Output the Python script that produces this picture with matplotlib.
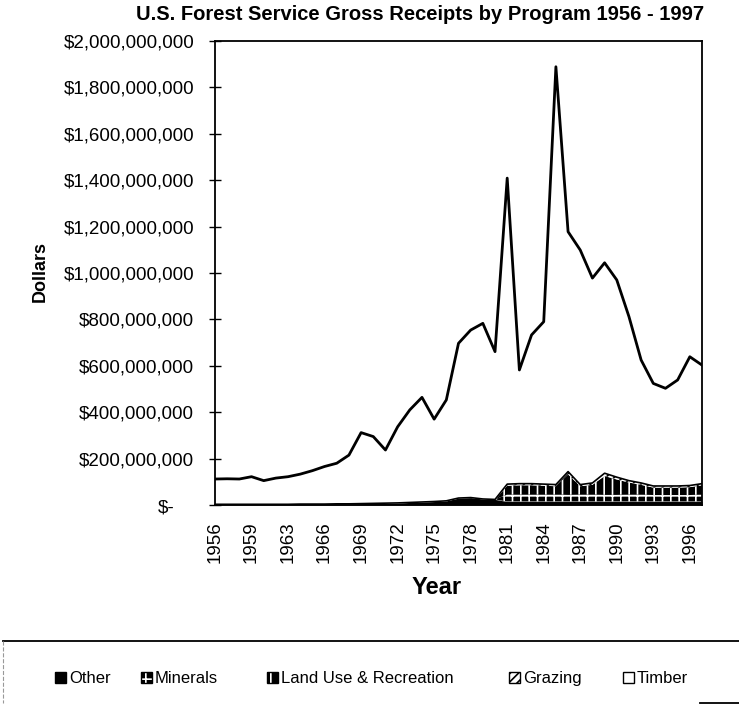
import numpy as np
import matplotlib.pyplot as plt
from matplotlib.patches import Rectangle
from matplotlib.lines import Line2D
from matplotlib.ticker import FuncFormatter
from matplotlib.transforms import blended_transform_factory

plt.rcParams['font.family'] = ['Liberation Sans', 'DejaVu Sans']
plt.rcParams['hatch.linewidth'] = 1.2

# category labels (no 1962 in the source table)
years = ['1956', '1957', '1958', '1959', '1960', '1961', '1963', '1964', '1965',
         '1966', '1967', '1968', '1969', '1970', '1971', '1972', '1973', '1974',
         '1975', '1976', '1977', '1978', '1979', '1980', '1981', '1982', '1983',
         '1984', '1985', '1986', '1987', '1988', '1989', '1990', '1991', '1992',
         '1993', '1994', '1995', '1996', '1997']

# receipts, millions of dollars
other = [3, 3, 3, 3, 3, 3, 3, 4, 4, 4, 5, 5, 6, 7, 8, 9, 11, 13, 15, 18,
         30, 32, 26, 24, 15, 15, 15, 15, 15, 15, 15, 15, 15, 15, 15, 15,
         15, 15, 15, 15, 15]
minerals = [0, 0, 0, 0, 0, 0, 0, 0, 0, 0, 0, 0, 0, 0, 0, 0, 0, 0, 0, 0,
            0, 0, 0, 0, 30, 30, 30, 30, 30, 32, 30, 30, 32, 32, 30, 30,
            28, 28, 28, 28, 30]
land_use = [0, 0, 0, 0, 0, 0, 0, 0, 0, 0, 0, 0, 0, 0, 0, 0, 0, 0, 0, 0,
            0, 0, 0, 0, 38, 40, 40, 38, 36, 85, 36, 42, 78, 63, 52, 42,
            32, 32, 32, 34, 40]
grazing = [0, 0, 0, 0, 0, 0, 0, 0, 0, 0, 0, 0, 0, 0, 0, 0, 0, 0, 0, 0,
           0, 0, 0, 0, 7, 7, 7, 7, 7, 12, 7, 8, 12, 10, 8, 8,
           7, 7, 7, 7, 7]
timber = [109, 110, 109, 119, 102, 113, 119, 129, 144, 162, 175, 210, 306,
          288, 229, 328, 399, 451, 355, 435, 667, 722, 757, 637, 1319, 490,
          641, 700, 1801, 1034, 1011, 883, 907, 850, 707, 530, 442, 421,
          457, 555, 511]

labels = ['Other', 'Minerals', 'Land Use & Recreation', 'Grazing', 'Timber']
styles = [
    dict(facecolor='black', edgecolor='black', hatch=None),
    dict(facecolor='black', edgecolor='white', hatch='++'),
    dict(facecolor='black', edgecolor='white', hatch='||'),
    dict(facecolor='white', edgecolor='black', hatch='////'),
    dict(facecolor='white', edgecolor='white', hatch=None),
]

x = np.arange(len(years))
stack = np.cumsum(np.vstack([other, minerals, land_use, grazing, timber]), axis=0)
bottoms = np.vstack([np.zeros(len(x)), stack[:-1]])

W, H = 739, 711
fig = plt.figure(figsize=(W / 100, H / 100), dpi=100)
ax = fig.add_axes([215 / W, 1 - 505 / H, (702 - 215) / W, (505 - 41) / H])

for lo, hi, st in zip(bottoms, stack, styles):
    ax.fill_between(x, lo, hi, linewidth=0, **st)
ax.plot(x, stack[3], color='black', lw=1.2)
ax.plot(x, stack[4], color='black', lw=2)

ax.set_xlim(0, len(years) - 1)
ax.set_ylim(0, 2000)
ax.set_yticks(np.arange(0, 2001, 200))
ax.yaxis.set_major_formatter(FuncFormatter(
    lambda v, p: '' if v == 0 else '${:,.0f}'.format(v * 1e6)))
ax.tick_params(axis='y', direction='inout', length=8, width=1, labelsize=13.5, pad=11)
ax.set_xticks(x[::3])
ax.set_xticklabels(years[::3], rotation=90, fontsize=13.5)
ax.tick_params(axis='x', length=0, pad=12)
for s in ax.spines.values():
    s.set_linewidth(1.3)

tr = blended_transform_factory(fig.transFigure, ax.transData)
ax.text(175 / W, -15, '$-', transform=tr, ha='right', va='center', fontsize=13.5)

fig.text(420 / W, 1 - 14 / H, 'U.S. Forest Service Gross Receipts by Program 1956 - 1997',
         ha='center', va='center', fontsize=14.5, fontweight='bold')
fig.text(40 / W, 1 - 272 / H, 'Dollars', rotation=90, ha='center', va='center',
         fontsize=13, fontweight='bold')
fig.text(437 / W, 1 - 588 / H, 'Year', ha='center', va='center',
         fontsize=17, fontweight='bold')

# legend box (cut off at the page edge)
fig.add_artist(Line2D([3 / W, 1], [1 - 641 / H] * 2, transform=fig.transFigure,
                      color='black', lw=1.3))
fig.add_artist(Line2D([3 / W] * 2, [1 - 641 / H, 1 - 703 / H], transform=fig.transFigure,
                      color='0.6', lw=0.8, ls='--'))
fig.add_artist(Line2D([700 / W, 1], [1 - 703 / H] * 2, transform=fig.transFigure,
                      color='black', lw=1.3))

legend_px = [55, 141, 267, 509, 623]
sq = 11
for lab, st, px in zip(labels, styles, legend_px):
    fig.add_artist(Rectangle((px / W, 1 - (677 + sq / 2) / H), sq / W, sq / H,
                             transform=fig.transFigure, lw=0, **st))
    fig.add_artist(Rectangle((px / W, 1 - (677 + sq / 2) / H), sq / W, sq / H,
                             transform=fig.transFigure, fill=False,
                             edgecolor='black', lw=1))
    fig.text((px + sq + 3) / W, 1 - 683 / H, lab, ha='left', va='baseline', fontsize=12)

fig.savefig('out.png', dpi=100)
